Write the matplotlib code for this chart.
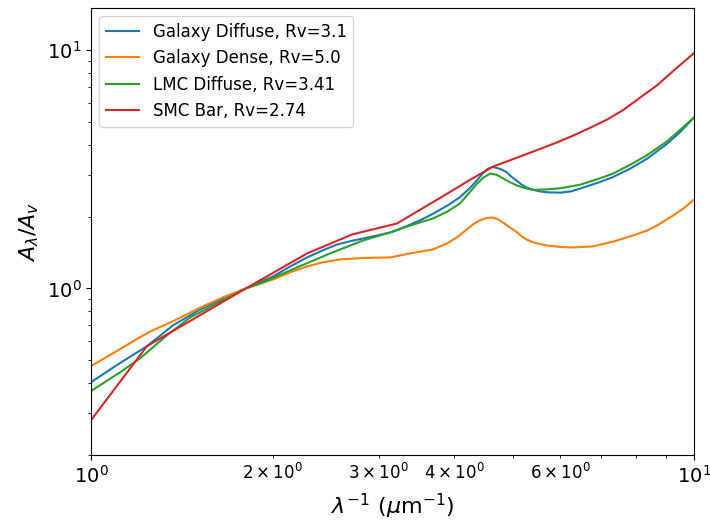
import matplotlib
matplotlib.use("Agg")
import matplotlib.pyplot as plt

# inverse wavelength (1/micron) and A_lambda/A_V
gal_diffuse_x = [1.0, 1.117, 1.238, 1.368, 1.516, 1.655, 1.807, 2.004, 2.14, 2.281, 2.42, 2.559,
                 2.70, 2.826, 2.98, 3.132, 3.255, 3.381, 3.53, 3.69, 3.90, 4.09, 4.24, 4.36,
                 4.46, 4.55, 4.63, 4.71, 4.80, 4.89, 4.98, 5.08, 5.18, 5.28, 5.41, 5.55,
                 5.70, 6.0, 6.25, 6.5, 7.0, 7.34, 7.84, 8.36, 9.0, 9.48, 10.0]
gal_diffuse_y = [0.404, 0.486, 0.572, 0.700, 0.815, 0.905, 1.0, 1.122, 1.236, 1.348, 1.442, 1.528,
                 1.58, 1.619, 1.666, 1.715, 1.776, 1.85, 1.94, 2.054, 2.225, 2.41, 2.62, 2.83,
                 3.03, 3.17, 3.23, 3.20, 3.15, 3.07, 2.94, 2.83, 2.72, 2.65, 2.59, 2.55,
                 2.53, 2.52, 2.55, 2.63, 2.80, 2.93, 3.18, 3.50, 4.02, 4.52, 5.21]

gal_dense_x = [1.0, 1.117, 1.206, 1.261, 1.368, 1.516, 1.655, 1.807, 2.004, 2.138, 2.281, 2.42,
               2.588, 2.826, 3.132, 3.381, 3.69, 3.894, 4.05, 4.203, 4.32, 4.417, 4.52, 4.624,
               4.73, 4.824, 4.95, 5.088, 5.18, 5.285, 5.39, 5.5, 5.70, 6.0, 6.30, 6.80, 7.34,
               8.0, 8.36, 8.68, 9.23, 9.62, 10.0]
gal_dense_y = [0.472, 0.556, 0.624, 0.664, 0.728, 0.829, 0.917, 1.0, 1.09, 1.167, 1.236, 1.285,
               1.322, 1.341, 1.348, 1.401, 1.456, 1.543, 1.64, 1.77, 1.87, 1.93, 1.97, 1.982,
               1.95, 1.889, 1.80, 1.72, 1.65, 1.60, 1.565, 1.543, 1.513, 1.492, 1.484, 1.50, 1.57,
               1.68, 1.749, 1.835, 2.02, 2.17, 2.357]

lmc_x = [1.0, 1.117, 1.206, 1.337, 1.459, 1.60, 1.807, 1.929, 2.196, 2.491, 2.826, 3.132, 3.381,
         3.69, 3.90, 4.09, 4.24, 4.367, 4.47, 4.588, 4.70, 4.824, 4.95, 5.088, 5.25, 5.41,
         5.70, 6.0, 6.47, 7.0, 7.34, 7.84, 8.36, 9.0, 9.48, 10.0]
lmc_y = [0.371, 0.444, 0.509, 0.636, 0.754, 0.852, 1.0, 1.06, 1.224, 1.401, 1.588, 1.715, 1.835,
         1.963, 2.10, 2.268, 2.52, 2.75, 2.91, 3.03, 3.0, 2.89, 2.79, 2.70, 2.63, 2.59,
         2.60, 2.63, 2.72, 2.90, 3.03, 3.30, 3.62, 4.12, 4.62, 5.21]

smc_x = [1.0, 1.238, 1.807, 2.281, 2.71, 3.217, 3.87, 4.24, 4.64, 5.08, 5.55, 5.92, 6.30, 6.72,
         7.18, 7.64, 8.13, 8.68, 9.23, 9.62, 10.0]
smc_y = [0.280, 0.572, 1.0, 1.40, 1.683, 1.871, 2.47, 2.84, 3.24, 3.53, 3.84, 4.09, 4.37, 4.71,
         5.11, 5.61, 6.30, 7.10, 8.15, 8.92, 9.7]

labels = ['Galaxy Diffuse, Rv=3.1', 'Galaxy Dense, Rv=5.0', 'LMC Diffuse, Rv=3.41', 'SMC Bar, Rv=2.74']


def main():
    fig = plt.figure(figsize=(7.1, 5.21), dpi=100)
    ax = fig.add_axes([0.1282, 0.1267, 0.8493, 0.858])
    ax.plot(gal_diffuse_x, gal_diffuse_y, lw=1.5, label=labels[0])
    ax.plot(gal_dense_x, gal_dense_y, lw=1.5, label=labels[1])
    ax.plot(lmc_x, lmc_y, lw=1.5, label=labels[2])
    ax.plot(smc_x, smc_y, lw=1.5, label=labels[3])
    ax.set_xscale('log')
    ax.set_yscale('log')
    ax.set_xlim(1, 10)
    ax.set_ylim(0.2, 15)
    ax.tick_params(which='major', labelsize=14)
    ax.tick_params(which='minor', labelsize=12)
    ax.set_xlabel(r'$\lambda^{-1}$ ($\mu$m$^{-1}$)', fontsize=16)
    ax.set_ylabel(r'$A_\lambda/A_v$', fontsize=16)
    ax.legend(loc='upper left', fontsize=12)
    fig.savefig('out.png', dpi=100)


if __name__ == "__main__":
    main()
